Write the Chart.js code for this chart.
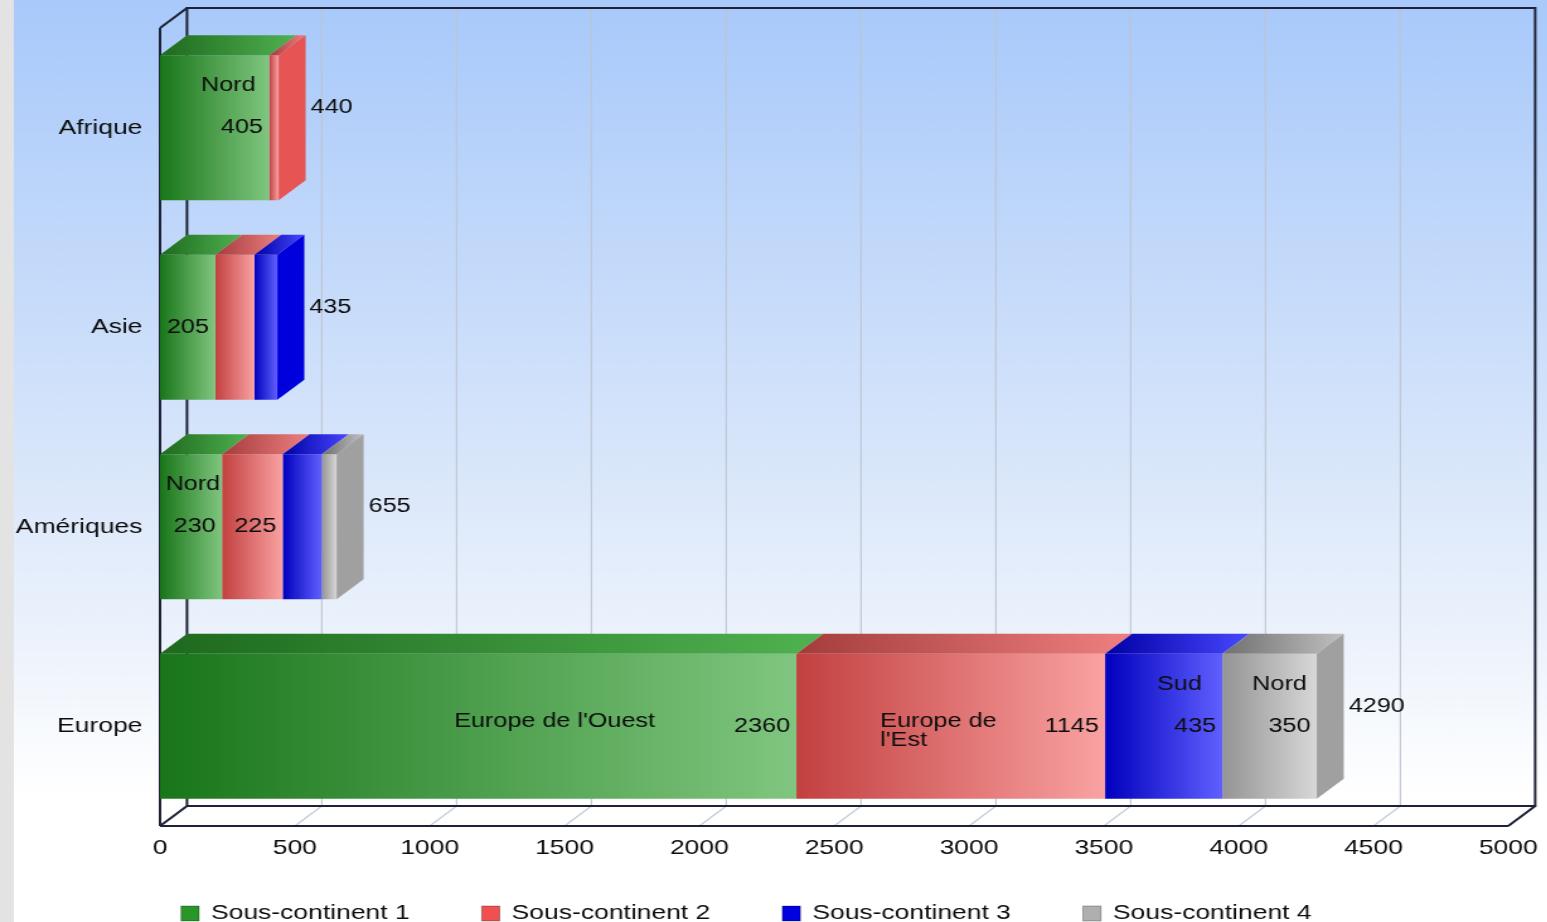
<!DOCTYPE html>
<html lang="fr">
<head>
<meta charset="utf-8">
<title>Sous-continents</title>
<script src="https://cdn.jsdelivr.net/npm/chart.js@4.4.1/dist/chart.umd.min.js"></script>
<style>
  html, body { margin: 0; padding: 0; overflow: hidden; background: #fff; }
  /* the source picture is stretched horizontally, so is this one */
  #wrap { width: 1228px; height: 922px; transform: scaleX(1.26); transform-origin: 0 0; }
</style>
</head>
<body>
<div id="wrap"><canvas id="chart"></canvas></div>
<script>
const categories = ["Afrique", "Asie", "Amériques", "Europe"];
const seriesLabels = ["Sous-continent 1", "Sous-continent 2", "Sous-continent 3", "Sous-continent 4"];

const sousContinent1 = [405, 205, 230, 2360];
const sousContinent2 = [35, 145, 225, 1145];
const sousContinent3 = [0, 85, 145, 435];
const sousContinent4 = [0, 0, 55, 350];

// names written inside the segments
const names1 = ["Nord", "", "Nord", "Europe de l'Ouest"];
const names2 = ["", "", "", ["Europe de", "l'Est"]];
const names3 = ["", "", "", "Sud"];
const names4 = ["", "", "", "Nord"];

const xTicks = [0, 500, 1000, 1500, 2000, 2500, 3000, 3500, 4000, 4500, 5000];

const seriesValues = [sousContinent1, sousContinent2, sousContinent3, sousContinent4];
const seriesNames = [names1, names2, names3, names4];

const DX = 21.4, DY = 20;
const FONT = "'Liberation Sans', Arial, sans-serif";
const INK = "#0d0d0d";

const palette = [
  { front: ["rgb(25,118,25)", "rgb(128,198,128)"], top: ["rgb(30,105,30)", "rgb(80,178,80)"], side: "rgb(60,150,60)", legend: "rgb(40,150,40)" },
  { front: ["rgb(195,64,64)", "rgb(250,162,162)"], top: ["rgb(165,60,60)", "rgb(238,128,128)"], side: "rgb(230,84,84)", legend: "rgb(240,80,80)" },
  { front: ["rgb(0,0,190)", "rgb(96,96,255)"], top: ["rgb(0,0,165)", "rgb(72,72,255)"], side: "rgb(0,0,220)", legend: "rgb(0,0,225)" },
  { front: ["rgb(148,148,148)", "rgb(216,216,216)"], top: ["rgb(112,112,112)", "rgb(192,192,192)"], side: "rgb(160,160,160)", legend: "rgb(175,175,175)" },
];

function frontFill(c) {
  const chart = c.chart, x = chart.scales.x;
  const d = c.datasetIndex, i = c.dataIndex;
  const colors = palette[d].front;
  if (!x || i === undefined) return colors[1];
  let start = 0;
  for (let k = 0; k < d; k++) start += seriesValues[k][i];
  const x0 = x.getPixelForValue(start);
  const x1 = x.getPixelForValue(start + seriesValues[d][i]);
  if (!(x1 - x0 > 0.5)) return colors[1];
  const g = chart.ctx.createLinearGradient(x0, 0, x1, 0);
  g.addColorStop(0, colors[0]);
  g.addColorStop(1, colors[1]);
  return g;
}

function line(ctx, x0, y0, x1, y1) {
  ctx.beginPath();
  ctx.moveTo(x0, y0);
  ctx.lineTo(x1, y1);
  ctx.stroke();
}

function poly(ctx, pts, fill) {
  ctx.beginPath();
  pts.forEach((p, k) => (k ? ctx.lineTo(p[0], p[1]) : ctx.moveTo(p[0], p[1])));
  ctx.closePath();
  ctx.fillStyle = fill;
  ctx.fill();
}

const threeD = {
  id: "threeD",
  beforeDraw(chart) {
    const { ctx, width, height } = chart;
    const g = ctx.createLinearGradient(0, 0, 0, height);
    g.addColorStop(0, "#a8c9fa");
    g.addColorStop(0.45, "#d3e3fa");
    g.addColorStop(0.7, "#edf3fc");
    g.addColorStop(0.86, "#ffffff");
    ctx.save();
    ctx.fillStyle = g;
    ctx.fillRect(0, 0, width, height);
    ctx.fillStyle = "#e3e3e3";
    ctx.fillRect(0, 0, 11, height);
    ctx.restore();
  },
  beforeDatasetsDraw(chart) {
    const { ctx, chartArea: a } = chart;
    const x = chart.scales.x;
    ctx.save();
    // grid on the back wall and on the floor
    ctx.strokeStyle = "rgba(190,196,208,0.9)";
    ctx.lineWidth = 1.2;
    xTicks.forEach((v) => {
      if (v === x.min || v === x.max) return;
      const xf = x.getPixelForValue(v);
      line(ctx, xf + DX, a.top - DY, xf + DX, a.bottom - DY);
      line(ctx, xf + DX, a.bottom - DY, xf, a.bottom);
    });
    // box frame
    ctx.strokeStyle = "#1e2236";
    ctx.lineWidth = 2;
    ctx.strokeRect(a.left + DX, a.top - DY, a.right - a.left, a.bottom - a.top);
    line(ctx, a.left, a.top, a.left, a.bottom);
    line(ctx, a.left, a.bottom, a.right, a.bottom);
    line(ctx, a.left, a.top, a.left + DX, a.top - DY);
    line(ctx, a.left, a.bottom, a.left + DX, a.bottom - DY);
    line(ctx, a.right, a.bottom, a.right + DX, a.bottom - DY);
    ctx.restore();
  },
  afterDatasetsDraw(chart) {
    const ctx = chart.ctx;
    const metas = seriesValues.map((_, d) => chart.getDatasetMeta(d));
    ctx.save();
    categories.forEach((cat, i) => {
      let last = null;
      metas.forEach((meta, d) => {
        const el = meta.data[i];
        const p = el.getProps(["x", "base", "y", "height"], true);
        const left = Math.min(p.base, p.x), right = Math.max(p.base, p.x);
        if (right - left < 0.5) return;
        const top = p.y - p.height / 2;
        const g = ctx.createLinearGradient(left, 0, right + DX, 0);
        g.addColorStop(0, palette[d].top[0]);
        g.addColorStop(1, palette[d].top[1]);
        poly(ctx, [[left, top], [left + DX, top - DY], [right + DX, top - DY], [right, top]], g);
        last = { d, left, right, top, bottom: p.y + p.height / 2, y: p.y };
      });
      if (!last) return;
      poly(ctx, [[last.right, last.top], [last.right + DX, last.top - DY],
        [last.right + DX, last.bottom - DY], [last.right, last.bottom]], palette[last.d].side);

      // total at the end of the bar
      const total = seriesValues.reduce((s, arr) => s + arr[i], 0);
      ctx.font = "20px " + FONT;
      ctx.fillStyle = INK;
      ctx.textAlign = "left";
      ctx.textBaseline = "middle";
      ctx.fillText(String(total), last.right + DX + 4, last.y - DY);
    });

    // values and names inside the segments
    ctx.font = "20px " + FONT;
    ctx.fillStyle = INK;
    ctx.textBaseline = "middle";
    metas.forEach((meta, d) => {
      meta.data.forEach((el, i) => {
        const p = el.getProps(["x", "base", "y", "height"], true);
        const left = Math.min(p.base, p.x), right = Math.max(p.base, p.x);
        const w = right - left;
        const txt = String(seriesValues[d][i]);
        const tw = ctx.measureText(txt).width;
        if (w < tw + 8) return;
        ctx.textAlign = "right";
        ctx.fillText(txt, right - 5, p.y);
        const name = seriesNames[d][i];
        if (!name) return;
        const lines = Array.isArray(name) ? name : [name];
        const nw = Math.max(...lines.map((s) => ctx.measureText(s).width));
        if (lines.length > 1 || w > 200) {
          // long names sit on the value's line, left of it
          const cx = left + w * (lines.length > 1 ? 0.46 : 0.62);
          ctx.textAlign = "left";
          lines.forEach((s, k) => ctx.fillText(s, cx - nw / 2, p.y - 5 + k * 19));
        } else {
          // short names sit above the value
          const valueCenter = right - 5 - tw / 2;
          ctx.textAlign = "center";
          ctx.fillText(lines[0], (valueCenter + (left + right) / 2) / 2, p.y - 42);
        }
      });
    });
    ctx.restore();
  },
  afterDraw(chart) {
    const ctx = chart.ctx;
    const a = chart.chartArea;
    ctx.save();
    ctx.font = "21px " + FONT;
    ctx.textAlign = "left";
    ctx.textBaseline = "middle";
    chart.data.datasets.forEach((ds, d) => {
      const x0 = a.left + 16.7 + d * 238.6;
      ctx.fillStyle = palette[d].legend;
      ctx.fillRect(x0, 906, 14.3, 15);
      ctx.strokeStyle = "rgba(0,0,0,0.35)";
      ctx.lineWidth = 0.8;
      ctx.strokeRect(x0, 906, 14.3, 15);
      ctx.fillStyle = INK;
      ctx.fillText(ds.label, x0 + 14.3 + 9.5, 913);
    });
    ctx.restore();
  },
};

new Chart(document.getElementById("chart"), {
  type: "bar",
  data: {
    labels: categories,
    datasets: seriesValues.map((values, d) => ({
      label: seriesLabels[d],
      data: values,
      backgroundColor: frontFill,
      borderWidth: 0,
      barPercentage: 0.727,
      categoryPercentage: 1,
    })),
  },
  options: {
    indexAxis: "y",
    responsive: true,
    maintainAspectRatio: false,
    animation: false,
    layout: { padding: { top: 28, right: 31, bottom: 0, left: 0 } },
    scales: {
      x: {
        stacked: true,
        min: 0,
        max: 5000,
        afterBuildTicks: (s) => { s.ticks = xTicks.map((v) => ({ value: v })); },
        afterFit: (s) => { s.height = 96; },
        grid: { display: false },
        border: { display: false },
        ticks: {
          font: { family: FONT, size: 21 },
          color: INK,
          padding: 2,
          maxRotation: 0,
          autoSkip: false,
          callback: (v) => String(v),
        },
      },
      y: {
        stacked: true,
        afterFit: (s) => { s.width = 127; },
        grid: { display: false },
        border: { display: false },
        ticks: { font: { family: FONT, size: 21 }, color: INK, padding: 6 },
      },
    },
    plugins: {
      legend: { display: false },
      tooltip: { enabled: false },
    },
  },
  plugins: [threeD],
});
</script>
</body>
</html>
